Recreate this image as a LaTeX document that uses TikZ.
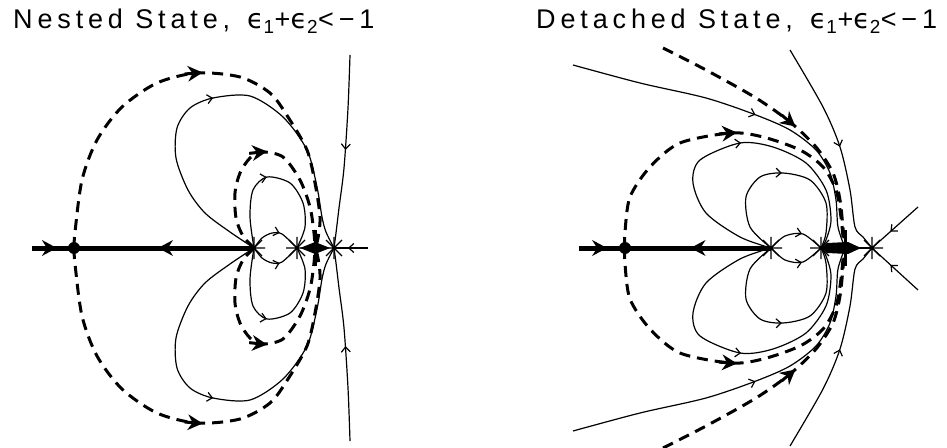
\documentclass[tikz,border=0pt]{standalone}
\usepackage{fontspec}
\setmainfont{Liberation Sans}
\newfontfamily\titlefont[LetterSpace=18]{Liberation Sans}
\newfontfamily\epsfont[LetterSpace=18]{DejaVu Sans}
\usetikzlibrary{arrows.meta,decorations.markings}
\tikzset{
  thincurve/.style={line width=1.2pt},
  dashcurve/.style={line width=3pt, dash pattern=on 11pt off 7pt},
  thickaxis/.style={line width=5pt},
  tarrow/.style={postaction={decorate}, decoration={markings, mark=at position #1 with {\pgfsetdash{}{0pt}\arrow{Straight Barb[length=5pt,width=9pt,line width=1.2pt]}}}},
  darrow/.style={postaction={decorate}, decoration={markings, mark=at position #1 with {\fill (-9,-8) -- (6,0) -- (-9,8) -- (-4,0) -- cycle; \draw[solid, line width=3pt] (-12,0) -- (0,0);}}},
  aarrow/.style={postaction={decorate}, decoration={markings, mark=at position #1 with {\fill (-9,-8) -- (6,0) -- (-9,8) -- (-4,0) -- cycle;}}},
  titlestyle/.style={anchor=base west, inner sep=0pt, font=\titlefont\fontsize{27}{31}\selectfont},
}
\newcommand{\eps}{{\epsfont ϵ}}
\begin{document}
\begin{tikzpicture}[x=1pt,y=1pt]
\useasboundingbox (0,-199) rectangle (947,248);
% fixed points, left panel
\coordinate (L0) at (32,0);
\coordinate (D1) at (74,0);
\coordinate (S1) at (254,0);
\coordinate (S2) at (297,0);
\coordinate (N1) at (315,0);
\coordinate (S3) at (334,0);
\coordinate (L9) at (368,0);
% fixed points, right panel
\coordinate (R0) at (579,0);
\coordinate (D2) at (625,0);
\coordinate (S4) at (771,0);
\coordinate (S5) at (821,0);
\coordinate (N2) at (845,0);
\coordinate (S6) at (872,0);
\coordinate (RU) at (918,41);
\coordinate (RD) at (918,-42);

\node[titlestyle] (t1) at (13,219) {Nested State,\, \eps\textsubscript{1}+\eps\textsubscript{2}<−1};
\node[titlestyle] (t2) at (536,219) {Detached State,\, \eps\textsubscript{1}+\eps\textsubscript{2}<−1};

\foreach \s in {1,-1}{
\begin{scope}[yscale=\s]
  % ---- left panel ----
  \draw[dashcurve, darrow=0.49] plot[smooth] coordinates {(D1) (75,16) (82,68) (97,108) (122,141) (157,165) (197,175) (240,171) (270,155) (288,131) (307,98) (315,65) (320,31) (318,10) (N1)};
  \draw[dashcurve, darrow=0.48] plot[smooth] coordinates {(S1) (243,12) (236,30) (235,55) (240,75) (250,90) (262,96) (283,91) (300,68) (310,41) (314,15) (N1)};
  \draw[thincurve, tarrow=0.48] plot[smooth] coordinates {(S1) (230,16) (205,35) (188,58) (176,90) (177,120) (190,140) (213,150) (250,152) (283,131) (307,98) (317,61) (322,31) (326,16) (S3)};
  \draw[thincurve, tarrow=0.45] plot[smooth] coordinates {(S1) (250,31) (253,58) (267,71) (290,65) (303,45) (305,21) (S2)};
  \draw[thincurve, tarrow=0.58] plot[smooth] coordinates {(S1) (262,10) (272,15) (282,14) (S2)};
  \draw[thincurve, tarrow=0.49] plot[smooth] coordinates {(350,193) (348,140) (344,80) (339,40) (336,15) (S3)};
  \draw[line width=3pt] (N1) -- (315,18);
  % ---- right panel ----
  \draw[dashcurve, darrow=0.49] plot[smooth] coordinates {(D2) (625,16) (630,51) (650,81) (680,105) (731,115) (763,111) (800,98) (823,81) (836,58) (841,31) (843,11) (N2)};
  \draw[dashcurve, darrow=0.51] plot[smooth] coordinates {(663,200) (706,178) (756,150) (790,126) (816,101) (833,75) (840,48) (843,20) (N2)};
  \draw[thincurve, tarrow=0.52] plot[smooth] coordinates {(573,183) (640,165) (706,150) (756,133) (790,118) (816,98) (830,75) (836,48) (838,21) (N2)};
  \draw[thincurve, tarrow=0.5] plot[smooth] coordinates {(790,198) (823,141) (840,101) (850,58) (855,21) (863,11) (S6)};
  \draw[thincurve, tarrow=0.52] plot[smooth] coordinates {(S4) (740,11) (706,35) (693,65) (700,88) (740,105) (773,101) (806,85) (826,58) (831,28) (826,8) (S5)};
  \draw[thincurve, tarrow=0.51] plot[smooth] coordinates {(S4) (750,21) (746,51) (760,71) (783,75) (810,68) (826,45) (826,15) (S5)};
  \draw[thincurve, tarrow=0.6] plot[smooth] coordinates {(S4) (785,12) (803,14) (S5)};
  \draw[line width=3pt] (N2) -- (845,18);
\end{scope}}

% axes, left
\draw[thickaxis, aarrow=0.45] (L0) -- (D1);
\draw[thickaxis, aarrow=0.5] (S1) -- (D1);
\fill (D1) circle (6);
\draw[thincurve, tarrow=0.59] (L9) -- (S3);
\fill (300,0) -- (315,6) -- (330,0) -- (315,-6) -- cycle;
% axes, right
\draw[thickaxis, aarrow=0.48] (R0) -- (D2);
\draw[thickaxis, aarrow=0.51] (S4) -- (D2);
\fill (D2) circle (6);
\fill (S5) -- (827,5) -- (848,6) -- (861,0) -- (848,-6) -- (827,-5) -- cycle;
\draw[line width=2.5pt] (N2) -- (S6);
\draw[thincurve, tarrow=0.6] (RU) -- (S6);
\draw[thincurve, tarrow=0.6] (RD) -- (S6);
% saddle stars
\foreach \p in {S1,S2,S3,S4,S5,S6}{
  \draw[thincurve] (\p) +(-11,0) -- +(11,0) +(0,-11) -- +(0,11) +(-8,-8) -- +(8,8) +(-8,8) -- +(8,-8);
}
\end{tikzpicture}
\end{document}
